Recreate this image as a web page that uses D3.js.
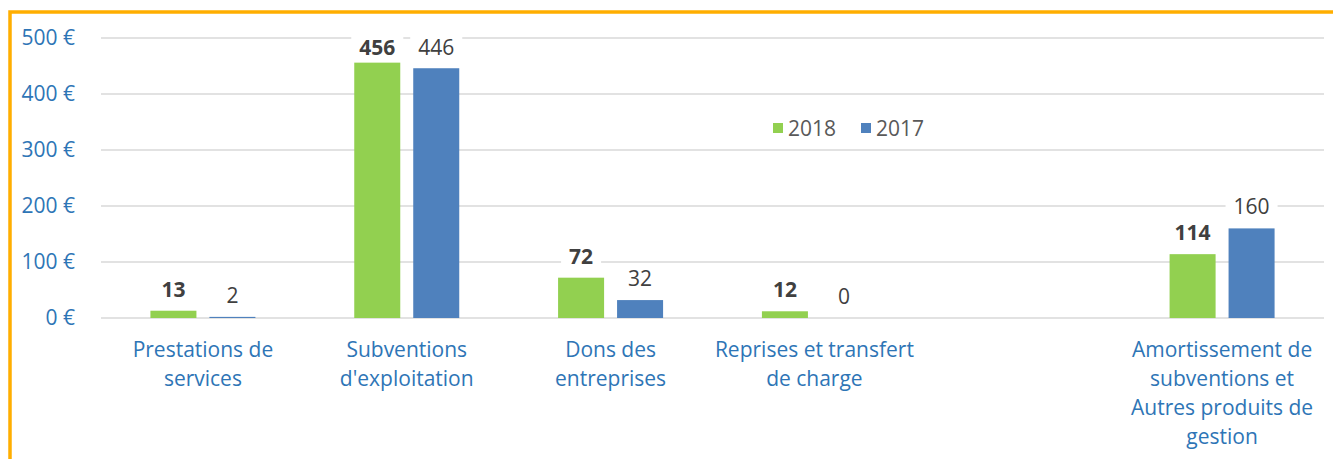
<!DOCTYPE html>
<html>
<head>
<meta charset="utf-8">
<script src="https://cdn.jsdelivr.net/npm/d3@7"></script>
<style>
  body { margin: 0; background: #fff; }
  svg { display: block; font-family: "Open Sans", sans-serif; }
</style>
</head>
<body>
<svg id="chart" width="1333" height="459"></svg>
<script>
// categories (one empty slot before the last group, as in the original)
const categories = [
  "Prestations de\nservices",
  "Subventions\nd'exploitation",
  "Dons des\nentreprises",
  "Reprises et transfert\nde charge",
  "",
  "Amortissement de\nsubventions et\nAutres produits de\ngestion"
];
const series = ["2018", "2017"];
const values2018 = [13, 456, 72, 12, null, 114];
const values2017 = [2, 446, 32, 0, null, 160];
const yTicks = [0, 100, 200, 300, 400, 500];

const colors = { "2018": "#92D050", "2017": "#4F81BD" };
const blue = "#2E75B6";
const labelGrey = "#404040";

const svg = d3.select("#chart");
const plot = { left: 101, right: 1324, top: 38, bottom: 318 };

const x0 = d3.scaleBand().domain(d3.range(categories.length)).range([plot.left, plot.right]);
const bw = x0.bandwidth();
const x1 = d3.scaleBand().domain(series).range([bw / 2 - 52.5, bw / 2 + 52.5]).paddingInner(0.22);
const y = d3.scaleLinear().domain([0, 500]).range([plot.bottom, plot.top]);

// frame (orange top/left edge)
svg.append("path")
  .attr("d", "M10,459 L10,12 L1333,12")
  .attr("fill", "none")
  .attr("stroke", "#FFAE00")
  .attr("stroke-width", 3.5);

// gridlines
svg.append("g")
  .selectAll("line")
  .data(yTicks)
  .join("line")
  .attr("x1", plot.left)
  .attr("x2", plot.right)
  .attr("y1", (d) => y(d))
  .attr("y2", (d) => y(d))
  .attr("stroke", "#D9D9D9")
  .attr("stroke-width", 1.5);

// y axis labels
svg.append("g")
  .selectAll("text")
  .data(yTicks)
  .join("text")
  .attr("x", 75)
  .attr("y", (d) => y(d) + 7)
  .attr("text-anchor", "end")
  .attr("fill", blue)
  .attr("font-size", 21)
  .text((d) => `${d} €`);

// bars
const rows = categories.map((c, i) => ({ i, "2018": values2018[i], "2017": values2017[i] }));
const items = rows.flatMap((r) => series.map((s) => ({ i: r.i, s, v: r[s] }))).filter((d) => d.v !== null);

svg.append("g")
  .selectAll("rect")
  .data(items)
  .join("rect")
  .attr("x", (d) => x0(d.i) + x1(d.s))
  .attr("width", x1.bandwidth())
  .attr("y", (d) => y(d.v))
  .attr("height", (d) => y(0) - y(d.v))
  .attr("fill", (d) => colors[d.s]);

// data labels with white boxes (kept inside the plot area at the top)
const lab = svg.append("g")
  .selectAll("g")
  .data(items)
  .join("g")
  .attr("transform", (d) => `translate(${x0(d.i) + x1(d.s) + x1.bandwidth() / 2},${Math.max(y(d.v) - 14, 55)})`);

lab.append("rect").attr("fill", "#fff");
lab.append("text")
  .attr("text-anchor", "middle")
  .attr("font-size", 21)
  .attr("font-weight", (d) => (d.s === "2018" ? "bold" : "normal"))
  .attr("fill", labelGrey)
  .text((d) => d.v);
lab.each(function () {
  const t = d3.select(this).select("text").node();
  const w = t.getComputedTextLength();
  d3.select(this).select("rect")
    .attr("x", -w / 2 - 8)
    .attr("width", w + 16)
    .attr("y", -23)
    .attr("height", 29);
});

// category labels
svg.append("g")
  .selectAll("text")
  .data(categories.map((c, i) => ({ c, i })))
  .join("text")
  .attr("text-anchor", "middle")
  .attr("fill", blue)
  .attr("font-size", 21)
  .attr("x", (d) => x0(d.i) + bw / 2)
  .attr("y", 357)
  .each(function (d) {
    d3.select(this)
      .selectAll("tspan")
      .data(d.c.split("\n").filter((s) => s))
      .join("tspan")
      .attr("x", x0(d.i) + bw / 2)
      .attr("dy", (s, k) => (k === 0 ? 0 : 29))
      .text((s) => s);
  });

// legend
const legend = svg.append("g").attr("transform", "translate(773,128)");
const li = legend.selectAll("g")
  .data(series)
  .join("g")
  .attr("transform", (d, k) => `translate(${k * 88},0)`);
li.append("rect")
  .attr("x", 0)
  .attr("y", -5)
  .attr("width", 10)
  .attr("height", 10)
  .attr("fill", (d) => colors[d]);
li.append("text")
  .attr("x", 15)
  .attr("y", 8)
  .attr("font-size", 21)
  .attr("fill", "#595959")
  .text((d) => d);
</script>
</body>
</html>
